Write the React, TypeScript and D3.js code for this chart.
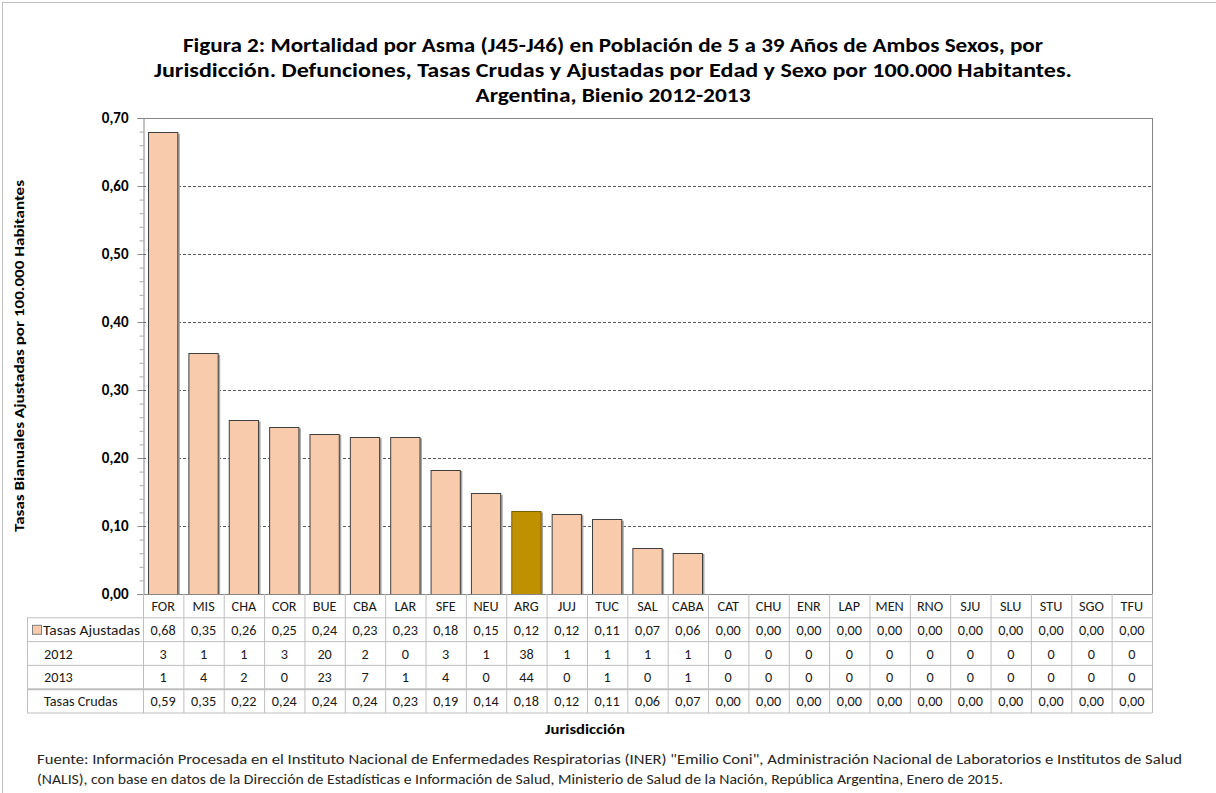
import { useEffect, useRef } from "react";
import { axisLeft, formatLocale, scaleBand, scaleLinear, select, range } from "d3";

const categories = [
  "FOR", "MIS", "CHA", "COR", "BUE", "CBA", "LAR", "SFE", "NEU", "ARG", "JUJ", "TUC",
  "SAL", "CABA", "CAT", "CHU", "ENR", "LAP", "MEN", "RNO", "SJU", "SLU", "STU", "SGO", "TFU",
];

// tasas ajustadas (bar heights)
const ajustadas = [
  0.679, 0.354, 0.256, 0.246, 0.236, 0.231, 0.231, 0.183, 0.148, 0.122, 0.118, 0.11,
  0.068, 0.061, 0, 0, 0, 0, 0, 0, 0, 0, 0, 0, 0,
];
const def2012 = [3, 1, 1, 3, 20, 2, 0, 3, 1, 38, 1, 1, 1, 1, 0, 0, 0, 0, 0, 0, 0, 0, 0, 0, 0];
const def2013 = [1, 4, 2, 0, 23, 7, 1, 4, 0, 44, 0, 1, 0, 1, 0, 0, 0, 0, 0, 0, 0, 0, 0, 0, 0];
const crudas = [
  0.59, 0.35, 0.22, 0.24, 0.24, 0.24, 0.23, 0.19, 0.14, 0.18, 0.12, 0.11,
  0.06, 0.07, 0, 0, 0, 0, 0, 0, 0, 0, 0, 0, 0,
];
const yTicks = [0, 0.1, 0.2, 0.3, 0.4, 0.5, 0.6, 0.7];

const titleLines = [
  "Figura 2: Mortalidad por Asma (J45-J46) en Población de 5 a 39 Años de Ambos Sexos, por",
  "Jurisdicción. Defunciones, Tasas Crudas y Ajustadas por Edad y Sexo por 100.000 Habitantes.",
  "Argentina, Bienio 2012-2013",
];
const titleWidths = [860, 918, 275];
const footerLines = [
  "Fuente: Información Procesada en el Instituto Nacional de Enfermedades Respiratorias (INER) \"Emilio Coni\", Administración Nacional de Laboratorios e Institutos de Salud",
  "(NALIS), con base en datos de la Dirección de Estadísticas e Información de Salud, Ministerio de Salud de la Nación, República Argentina, Enero de 2015.",
];
const footerWidths = [1145, 966];

const font = "Carlito, Calibri, 'Liberation Sans Narrow', Lato, sans-serif";
const locale = formatLocale({ decimal: ",", thousands: ".", grouping: [3], currency: ["$", ""] });
const fmt2 = locale.format(".2f");

const plot = { left: 143, right: 1152, top: 118, bottom: 594 };
const rowH = 23.8;
const tableLeft = 27;

const x = scaleBand<string>()
  .domain(categories)
  .range([plot.left, plot.right])
  .paddingInner(0.25)
  .paddingOuter(0.125);
const y = scaleLinear().domain([0, 0.7]).range([plot.bottom, plot.top]);
const step = x.step();
const colLeft = (c: string) => (x(c) as number) - (step * 0.25) / 2;

function YAxis() {
  const ref = useRef<SVGGElement>(null);
  useEffect(() => {
    if (!ref.current) return;
    const g = select(ref.current);
    g.call(axisLeft(y).tickValues(yTicks).tickFormat((d) => fmt2(d as number)).tickSize(6).tickPadding(9));
    g.select(".domain").attr("stroke", "#868686");
    g.selectAll(".tick line").attr("stroke", "#868686");
    g.selectAll(".tick text")
      .attr("font-family", font)
      .attr("font-size", 15)
      .attr("font-weight", "bold")
      .attr("fill", "#000");
    g.selectAll(".minor")
      .data(range(0, 0.7001, 0.02).filter((v) => Math.round(v * 100) % 10 !== 0))
      .join("line")
      .attr("class", "minor")
      .attr("x1", -4)
      .attr("x2", 0)
      .attr("y1", (d) => y(d) + 0.5)
      .attr("y2", (d) => y(d) + 0.5)
      .attr("stroke", "#a6a6a6");
  }, []);
  return <g ref={ref} transform={`translate(${plot.left + 0.5},0)`} />;
}

function Table() {
  const rows = [
    { label: "Tasas Ajustadas", values: ajustadas.map((v) => fmt2(v)), key: true },
    { label: "2012", values: def2012.map(String), key: false },
    { label: "2013", values: def2013.map(String), key: false },
    { label: "Tasas Crudas", values: crudas.map((v) => fmt2(v)), key: false },
  ];
  const top = plot.bottom;
  const bottom = top + rowH * 5;
  const lineColor = "#bfbfbf";
  return (
    <g fontFamily={font} fontSize={14.2} fill="#1a1a1a">
      {range(1, 6).map((i) => (
        <line
          key={"h" + i}
          x1={tableLeft}
          x2={plot.right}
          y1={top + rowH * i}
          y2={top + rowH * i}
          stroke={lineColor}
          strokeWidth={i === 4 ? 2 : 1}
        />
      ))}
      <line x1={tableLeft + 0.5} x2={tableLeft + 0.5} y1={top + rowH} y2={bottom} stroke={lineColor} />
      <line x1={plot.left + 0.5} x2={plot.left + 0.5} y1={top} y2={bottom} stroke={lineColor} />
      {categories.map((c) => (
        <line
          key={"v" + c}
          x1={colLeft(c) + step + 0.5}
          x2={colLeft(c) + step + 0.5}
          y1={top}
          y2={bottom}
          stroke={lineColor}
        />
      ))}
      {categories.map((c) => (
        <text key={"c" + c} x={colLeft(c) + step / 2} y={top + rowH / 2 + 5} textAnchor="middle">
          {c}
        </text>
      ))}
      {rows.map((r, ri) => {
        const ry = top + rowH * (ri + 1);
        return (
          <g key={r.label}>
            {r.key && (
              <rect x={32.5} y={ry + 7.5} width={9} height={9} fill="#f8cbad" stroke="#7f7f7f" />
            )}
            <text
              x={r.key ? 43 : 44}
              y={ry + rowH / 2 + 5}
              textLength={r.key ? 97 : undefined}
              lengthAdjust="spacingAndGlyphs"
            >
              {r.label}
            </text>
            {r.values.map((v, i) => (
              <text key={i} x={colLeft(categories[i]) + step / 2} y={ry + rowH / 2 + 5} textAnchor="middle">
                {v}
              </text>
            ))}
          </g>
        );
      })}
    </g>
  );
}

export default function App() {
  return (
    <svg width={1216} height={793} style={{ position: "absolute", left: 0, top: 0, background: "#fff" }}>
      <rect x={2.5} y={2.5} width={1220} height={800} fill="#fff" stroke="#bfbfbf" />
      {titleLines.map((t, i) => (
        <text
          key={t}
          x={613}
          y={52 + i * 25}
          textAnchor="middle"
          fontFamily={font}
          fontWeight="bold"
          fontSize={20.5}
          fill="#000"
          textLength={titleWidths[i]}
          lengthAdjust="spacingAndGlyphs"
        >
          {t}
        </text>
      ))}
      {yTicks.slice(1, -1).map((t) => (
        <line
          key={t}
          x1={plot.left}
          x2={plot.right}
          y1={Math.round(y(t)) + 0.5}
          y2={Math.round(y(t)) + 0.5}
          stroke="#595959"
          strokeDasharray="3,2"
        />
      ))}
      <line x1={plot.left} x2={plot.right} y1={plot.top + 0.5} y2={plot.top + 0.5} stroke="#868686" />
      <line x1={plot.right + 0.5} x2={plot.right + 0.5} y1={plot.top} y2={plot.bottom} stroke="#868686" />
      {categories.map((c, i) =>
        ajustadas[i] > 0 ? (
          <g key={c}>
            <rect
              x={(x(c) as number) + 1.5}
              y={y(ajustadas[i]) + 1.5}
              width={x.bandwidth()}
              height={plot.bottom - y(ajustadas[i]) - 1.5}
              fill="#a6a6a6"
            />
            <rect
              x={(x(c) as number) + 0.5}
              y={Math.round(y(ajustadas[i])) + 0.5}
              width={x.bandwidth() - 1}
              height={plot.bottom - Math.round(y(ajustadas[i]))}
              fill={c === "ARG" ? "#bf9000" : "#f8cbad"}
              stroke={c === "ARG" ? "#7f6000" : "#3f3f3f"}
            />
          </g>
        ) : null
      )}
      <line x1={plot.left} x2={plot.right} y1={plot.bottom + 0.5} y2={plot.bottom + 0.5} stroke="#868686" />
      <YAxis />
      <Table />
      <text
        transform={`translate(24,${(plot.top + plot.bottom) / 2}) rotate(-90)`}
        textAnchor="middle"
        fontFamily={font}
        fontWeight="bold"
        fontSize={14}
        textLength={352}
        lengthAdjust="spacingAndGlyphs"
      >
        Tasas Bianuales Ajustadas por 100.000 Habitantes
      </text>
      <text
        x={585}
        y={734}
        textAnchor="middle"
        fontFamily={font}
        fontWeight="bold"
        fontSize={14}
        textLength={80}
        lengthAdjust="spacingAndGlyphs"
      >
        Jurisdicción
      </text>
      {footerLines.map((t, i) => (
        <text
          key={i}
          x={37}
          y={764 + i * 20}
          fontFamily={font}
          fontSize={15}
          fill="#262626"
          textLength={footerWidths[i]}
          lengthAdjust="spacingAndGlyphs"
        >
          {t}
        </text>
      ))}
    </svg>
  );
}
